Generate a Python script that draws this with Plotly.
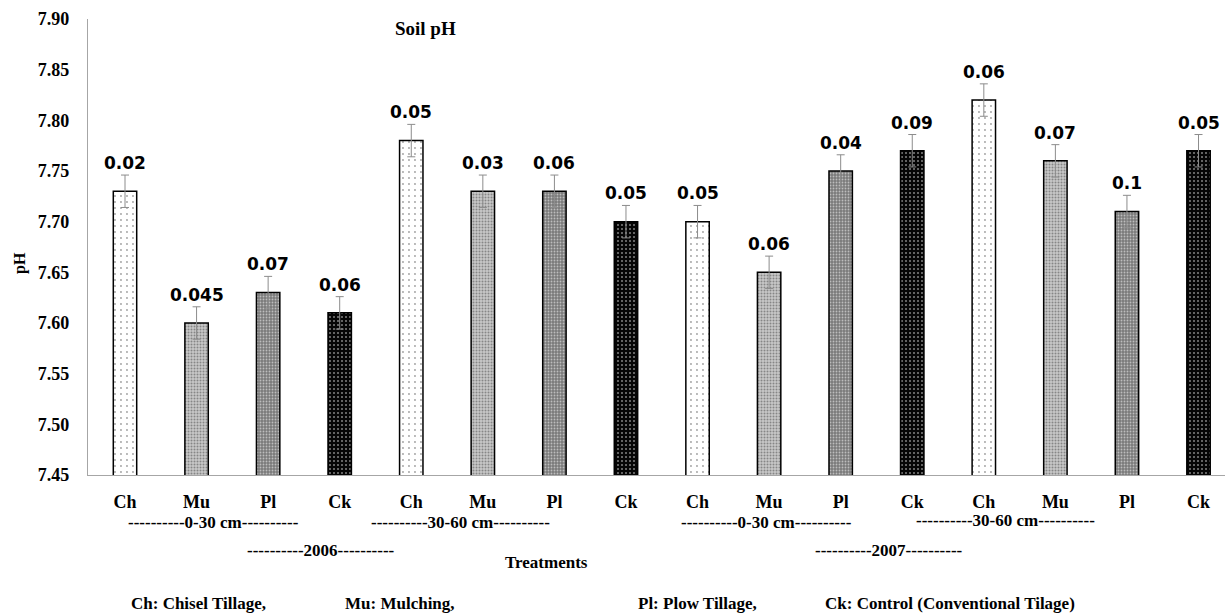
import plotly.graph_objects as go

# ---- data ----
treatments = ["Ch", "Mu", "Pl", "Ck"] * 4
ph_values = [7.73, 7.60, 7.63, 7.61,
             7.78, 7.73, 7.73, 7.70,
             7.70, 7.65, 7.75, 7.77,
             7.82, 7.76, 7.71, 7.77]
err_values = [0.016] * 16
label_values = ["0.02", "0.045", "0.07", "0.06",
                "0.05", "0.03", "0.06", "0.05",
                "0.05", "0.06", "0.04", "0.09",
                "0.06", "0.07", "0.1", "0.05"]
y_ticks = [7.45, 7.50, 7.55, 7.60, 7.65, 7.70, 7.75, 7.80, 7.85, 7.90]

positions = list(range(len(treatments)))

bg_map = {"Ch": "#ffffff", "Mu": "#c8c8c8", "Pl": "#7a7a7a", "Ck": "#050505"}
fg_map = {"Ch": "#777777", "Mu": "#909090", "Pl": "#b0b0b0", "Ck": "#7a7a7a"}
size_map = {"Ch": 6, "Mu": 3, "Pl": 3, "Ck": 4}
sol_map = {"Ch": 0.08, "Mu": 0.35, "Pl": 0.3, "Ck": 0.2}

SERIF = "Liberation Serif"
SANS = "DejaVu Sans"

fig = go.Figure()
fig.add_trace(go.Bar(
    x=positions,
    y=ph_values,
    width=0.327,
    marker=dict(
        color=[bg_map[t] for t in treatments],
        line=dict(color="#000000", width=1.5),
        pattern=dict(
            shape=["."] * len(treatments),
            bgcolor=[bg_map[t] for t in treatments],
            fgcolor=[fg_map[t] for t in treatments],
            size=[size_map[t] for t in treatments],
            solidity=[sol_map[t] for t in treatments],
            fillmode="overlay",
        ),
    ),
    error_y=dict(type="data", array=err_values, visible=True,
                 color="#8c8c8c", thickness=1, width=4),
    showlegend=False,
    hoverinfo="skip",
))

annotations = []
for x, v, e, lab in zip(positions, ph_values, err_values, label_values):
    annotations.append(dict(
        x=x, y=v + e, xref="x", yref="y", text=f"<b>{lab}</b>",
        showarrow=False, yanchor="bottom", yshift=0,
        font=dict(family=SANS, size=17, color="#000000"),
    ))

def paper_text(px, py, text, size=17):
    annotations.append(dict(
        x=(px - 88) / 1137, y=(475 - py) / 456, xref="paper", yref="paper",
        text=f"<b>{text}</b>", showarrow=False, xanchor="center", yanchor="middle",
        font=dict(family=SERIF, size=size, color="#000000"),
    ))

paper_text(213, 522, "----------0-30 cm----------")
paper_text(460, 522, "----------30-60 cm----------")
paper_text(766, 522, "----------0-30 cm----------")
paper_text(1005, 520, "----------30-60 cm----------")
paper_text(321, 550, "----------2006----------")
paper_text(889, 550, "----------2007----------")
paper_text(546, 562, "Treatments", 17)
paper_text(198, 603, "Ch: Chisel Tillage,", 17)
paper_text(400, 603, "Mu: Mulching,", 17)
paper_text(697, 603, "Pl: Plow Tillage,", 17)
paper_text(950, 603, "Ck: Control (Conventional Tilage)", 17)
paper_text(425, 29, "Soil pH", 19)

annotations.append(dict(
    x=(20 - 88) / 1137, y=(475 - 263) / 456, xref="paper", yref="paper",
    text="<b>pH</b>", showarrow=False, textangle=-90,
    xanchor="center", yanchor="middle",
    font=dict(family=SERIF, size=16, color="#000000"),
))

fig.update_layout(
    width=1225, height=614,
    margin=dict(l=88, r=0, t=19, b=139),
    paper_bgcolor="#ffffff", plot_bgcolor="#ffffff",
    annotations=annotations,
)
fig.update_xaxes(
    range=[-0.517, 15.37],
    tickmode="array", tickvals=positions, ticktext=[f"<b>{t}</b>" for t in treatments],
    tickfont=dict(family=SERIF, size=18, color="#000000"),
    showgrid=False, zeroline=False,
    showline=True, linecolor="#a6a6a6", linewidth=1.3,
    ticks="", ticklabelstandoff=10,
)
fig.update_yaxes(
    range=[7.45, 7.90],
    tickmode="array", tickvals=y_ticks, ticktext=[f"<b>{v:.2f}</b>" for v in y_ticks],
    tickfont=dict(family=SERIF, size=18, color="#000000"),
    showgrid=False, zeroline=False,
    showline=True, linecolor="#a6a6a6", linewidth=1.3,
    ticks="", ticklabelstandoff=14,
)

fig.write_html("out.html", config={"displayModeBar": False},
               post_script="document.body.style.margin='0px';")
